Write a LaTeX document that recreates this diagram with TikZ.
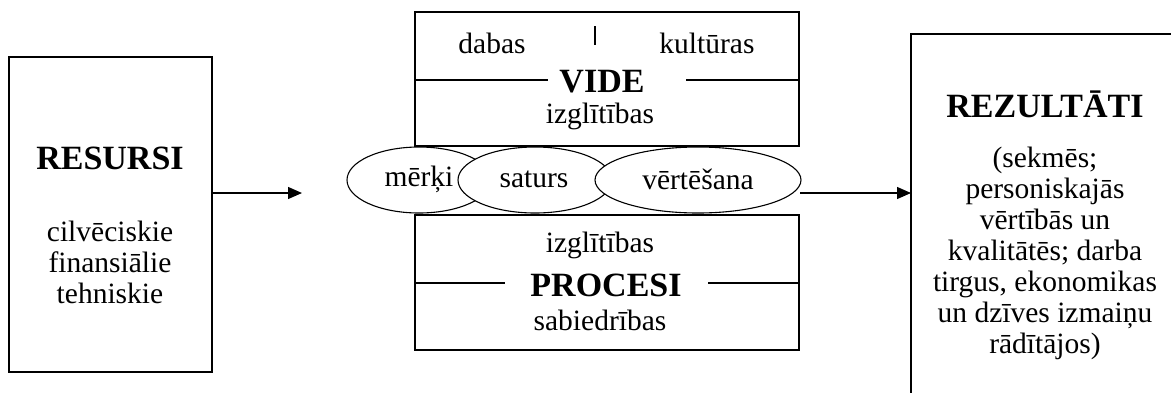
\documentclass[tikz,border=0pt]{standalone}
\usepackage{fontspec}
\setmainfont{Liberation Serif}
\usetikzlibrary{shapes.geometric,arrows.meta}
\tikzset{
  box/.style={draw, line width=1.5pt},
  txt/.style={inner sep=0pt, align=center, font=\fontsize{29.5}{31}\selectfont},
  btxt/.style={inner sep=0pt, align=center, font=\fontsize{34}{38}\selectfont\bfseries},
  oval/.style={draw, ellipse, fill=white, line width=1.1pt, inner sep=0pt, minimum height=66pt, font=\fontsize{29.5}{31}\selectfont},
  arr/.style={line width=1.3pt, -{Triangle[length=14pt,width=12pt]}},
  rule/.style={line width=1.5pt}
}
\begin{document}
\begin{tikzpicture}[x=1pt,y=-1pt]
\useasboundingbox (0,0) rectangle (1171,392);
\fill[white] (0,0) rectangle (1171,392);
\clip (0,0) rectangle (1171,392);

% left box
\draw[box] (9,57) rectangle (212,372);
\node[btxt] (res) at (110,158) {RESURSI};
\node[txt] (reslist) at (110,262) {cilvēciskie\\finansiālie\\tehniskie};

% top middle box
\draw[box] (415,12) rectangle (799,146);
\node[txt] (dabas) at (492,43) {dabas};
\node[txt] (kult) at (707,43) {kultūras};
\coordinate (tickA) at (595,26);
\coordinate (tickB) at (595,45);
\draw[line width=1.5pt] (tickA) -- (tickB);
\node[btxt] (vide) at (602,82) {VIDE};
\coordinate (vl1) at (415,80); \coordinate (vl2) at (548,80);
\coordinate (vr1) at (686,80); \coordinate (vr2) at (799,80);
\draw[rule] (vl1) -- (vl2);
\draw[rule] (vr1) -- (vr2);
\node[txt] (izg1) at (600,116) {izglītības};

% bottom middle box
\draw[box] (415,215) rectangle (799,350);
\node[txt] (izg2) at (600,245) {izglītības};
\node[btxt] (proc) at (606,285) {PROCESI};
\coordinate (pl1) at (415,283); \coordinate (pl2) at (505,283);
\coordinate (pr1) at (708,283); \coordinate (pr2) at (799,283);
\draw[rule] (pl1) -- (pl2);
\draw[rule] (pr1) -- (pr2);
\node[txt] (sab) at (600,320) {sabiedrības};

% ellipses
\node[oval, minimum width=144pt] (merki) at (419,180) {};
\node[oval, minimum width=154pt] (saturs) at (535,180) {};
\node[oval, minimum width=206pt] (vert) at (698,180) {};
\node[txt] at (419,179) {mērķi};
\node[txt] at (534,179) {saturs};
\node[txt] at (698,179) {vērtēšana};

% right box
\draw[box] (911,400) -- (911,34) -- (1180,34);
\node[btxt] (rez) at (1045,104) {REZULTĀTI};
\node[txt] (rezlist) at (1045,253) {(sekmēs;\\personiskajās\\vērtībās un\\kvalitātēs; darba\\tirgus, ekonomikas\\un dzīves izmaiņu\\rādītājos)};

% arrows
\coordinate (a1s) at (212,193);
\coordinate (a1e) at (302,193);
\draw[arr] (a1s) -- (a1e);
\coordinate (a2s) at (800,193);
\coordinate (a2e) at (911,193);
\draw[arr] (a2s) -- (a2e);
\end{tikzpicture}
\end{document}
